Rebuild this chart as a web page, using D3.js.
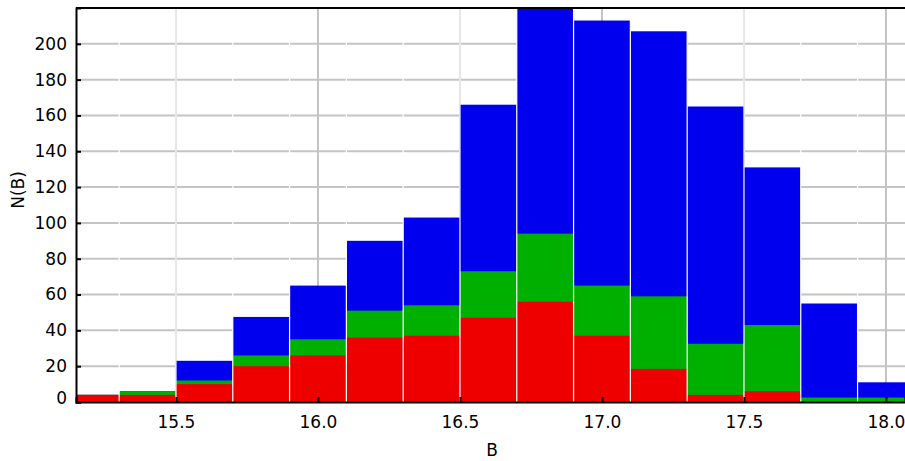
<!DOCTYPE html>
<html><head><meta charset="utf-8">
<script src="https://cdn.jsdelivr.net/npm/d3@7"></script>
<style>body{margin:0;background:#fff}text{font-family:"DejaVu Sans",sans-serif}</style>
</head><body><svg id="c" width="905" height="461"></svg>
<script>
const binStarts = [15.1,15.3,15.5,15.7,15.9,16.1,16.3,16.5,16.7,16.9,17.1,17.3,17.5,17.7,17.9];
// cumulative tops of each stacked layer
const redTop   = [4,4,10,20,26,36,37,47,56,37,18.5,4,6,0,0];
const greenTop = [4,6,12,26,35,51,54,73,94,65,59,32.5,43,2.5,2.5];
const blueTop  = [4,6,23,47.5,65,90,103,166,225,213,207,165,131,55,11];
const xTicks = [15.5,16.0,16.5,17.0,17.5,18.0];
const yTicks = [0,20,40,60,80,100,120,140,160,180,200];

const svg = d3.select("#c");
const L=76, R=905, T=8, B=402;
const x = d3.scaleLinear().domain([15.148,18.067]).range([L,R]);
const y = d3.scaleLinear().domain([0,220]).range([B,T]);

svg.append("defs").append("clipPath").attr("id","clip")
  .append("rect").attr("x",L).attr("y",T).attr("width",R-L).attr("height",B-T);

const grid = svg.append("g").attr("stroke","#c4c4c4").attr("stroke-width",2);
xTicks.forEach(v=>grid.append("line").attr("x1",x(v)).attr("x2",x(v)).attr("y1",T).attr("y2",B));
yTicks.slice(1).forEach(v=>grid.append("line").attr("x1",L).attr("x2",R).attr("y1",y(v)).attr("y2",y(v)));

const bars = svg.append("g").attr("clip-path","url(#clip)");
const layers = [[blueTop,"#0000ee"],[greenTop,"#00b000"],[redTop,"#ee0000"]];
layers.forEach(([vals,col])=>{
  bars.selectAll(null).data(binStarts).join("rect")
    .attr("x",d=>x(d)).attr("width",d=>x(d+0.2)-x(d))
    .attr("y",(d,i)=>y(vals[i])).attr("height",(d,i)=>B-y(vals[i]))
    .attr("fill",col);
});
// white separators
bars.selectAll(null).data(binStarts.slice(1)).join("line")
  .attr("x1",d=>x(d)).attr("x2",d=>x(d)).attr("y1",T).attr("y2",B)
  .attr("stroke","#fff").attr("stroke-width",1.2);

const xa = svg.append("g").attr("transform",`translate(0,${B})`)
  .call(d3.axisBottom(x).tickValues(xTicks).tickFormat(d3.format(".1f")).tickSize(-5).tickPadding(14));
const ya = svg.append("g").attr("transform",`translate(${L},0)`)
  .call(d3.axisLeft(y).tickValues(yTicks).tickSize(-5).tickPadding(9));
[xa,ya].forEach(a=>{a.select(".domain").attr("stroke","#000").attr("stroke-width",2);
  a.selectAll("text").attr("font-size",17).attr("fill","#000");
  a.selectAll("line").attr("stroke","#000").attr("stroke-width",2);});
ya.selectAll("text").filter(d=>d===0).attr("dy","0.1em");
svg.append("line").attr("x1",L).attr("x2",R).attr("y1",T).attr("y2",T).attr("stroke","#000").attr("stroke-width",2);

svg.append("text").attr("x",492).attr("y",456).attr("text-anchor","middle").attr("font-size",17).text("B");
svg.append("text").attr("transform","translate(24,190) rotate(-90)").attr("text-anchor","middle").attr("font-size",17).text("N(B)");
</script></body></html>
